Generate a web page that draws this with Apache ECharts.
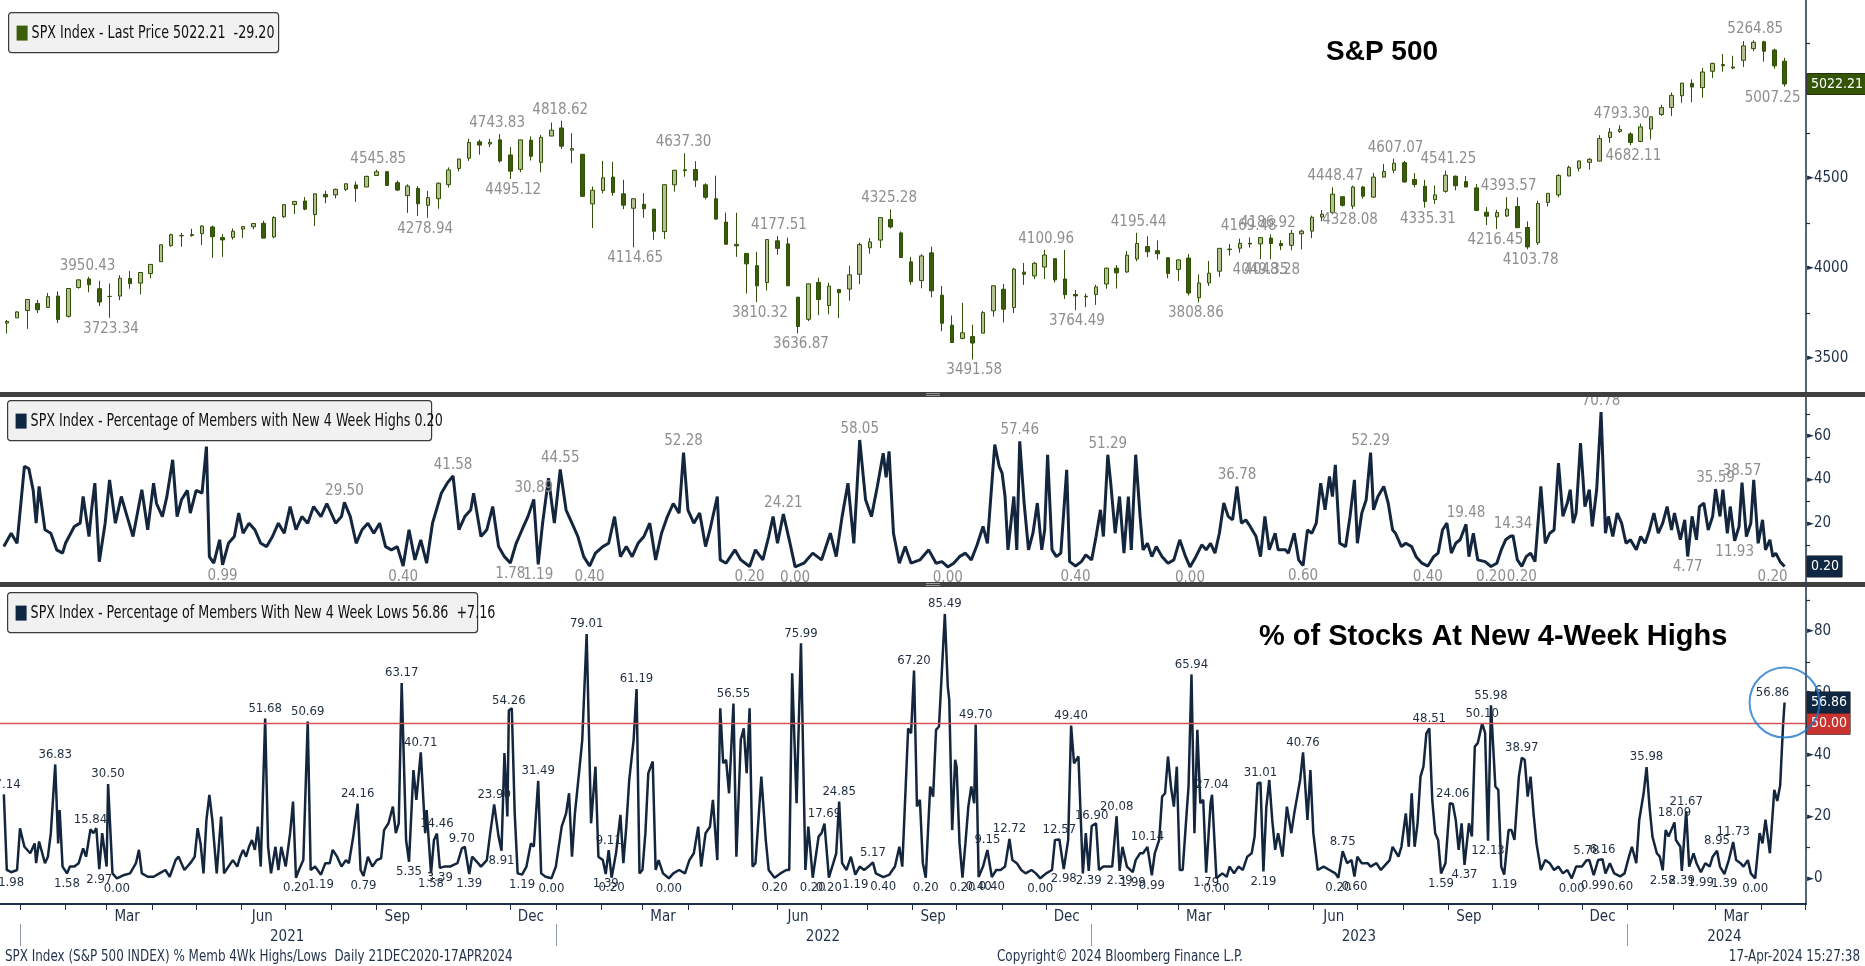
<!DOCTYPE html>
<html><head><meta charset="utf-8">
<script src="https://cdn.jsdelivr.net/npm/echarts@6/dist/echarts.min.js"></script>
<style>html,body{margin:0;padding:0;background:#fff}#c{width:1865px;height:966px}</style>
</head><body><div id="c"></div>
<script>
// ---------- DATA ----------
// Day 0 = Mon 21-Dec-2020. Weekly SPX candles [open, high, low, close], one per week (Mon start).
const spxWeekly = [
[3694,3711,3636,3703],[3723,3760,3723,3756],
[3764,3826,3662,3825],[3803,3823,3750,3768],[3781,3861,3781,3841],[3844,3870,3694,3714],
[3731,3887,3725,3886],[3892,3937,3885,3934],[3939,3950.43,3865,3907],[3885,3929,3789,3811],
[3842,3914,3723.34,3842],[3844,3960,3821,3943],[3942,3983,3885,3913],[3916,3978,3853,3975],[3969,4020,3943,4020],
[4035,4129,4034,4129],[4124,4191,4118,4185],[4179,4195,4118,4180],[4185,4218,4174,4181],
[4191,4238,4128,4233],[4228,4236,4056,4174],[4169,4188,4062,4156],[4170,4219,4158,4204],[4216,4234,4167,4230],
[4229,4249,4215,4247],[4248,4262,4165,4166],[4173,4287,4165,4281],[4285,4355,4278,4352],
[4353,4372,4300,4370],[4372,4394,4321,4327],[4297,4415,4233,4412],[4409,4430,4360,4395],
[4406,4441,4387,4437],[4437,4468,4428,4468],[4461,4480,4367,4441],[4450,4513,4450,4509],[4514,4545.85,4513,4535],
[4535,4536,4459,4459],[4474,4486,4427,4433],[4402,4465,4306,4455],[4442,4455,4289,4357],
[4348,4429,4278.94,4391],[4385,4475,4329,4471],[4463,4559,4447,4545],[4553,4608,4537,4605],
[4610,4718,4595,4697],[4701,4714,4630,4683],[4689,4717,4672,4698],[4712,4743.83,4585,4595],[4628,4672,4495.12,4538],
[4548,4713,4532,4712],[4710,4731,4597,4621],[4587,4740,4531,4726],[4733,4808,4733,4766],
[4778,4818.62,4662,4677],[4655,4749,4582,4663],[4632,4632,4395,4398],[4356,4453,4222,4432],[4431,4595,4414,4501],
[4505,4590,4401,4419],[4412,4490,4327,4349],[4332,4385,4114.65,4385],[4354,4416,4279,4329],
[4327,4327,4157,4204],[4202,4465,4161,4463],[4462,4546,4424,4543],[4541,4637.30,4507,4546],
[4547,4593,4450,4488],[4462,4471,4381,4393],[4385,4513,4267,4272],[4255,4308,4128,4132],
[4131,4307,4062,4123],[4081,4081,3858,4023],[4013,4090,3810.32,3901],[3919,4158,3875,4158],[4151,4177.51,4074,4109],
[4134,4168,3900,3901],[3838,3838,3636.87,3675],[3715,3913,3705,3912],[3920,3946,3738,3825],
[3792,3918,3743,3899],[3880,3880,3722,3863],[3883,4013,3818,3962],[3965,4140,3910,4130],
[4112,4167,4079,4145],[4155,4280,4111,4280],[4270,4325.28,4219,4228],[4195,4203,4057,4058],[4034,4062,3907,3924],
[3930,4076,3887,4067],[4084,4119,3837,3873],[3849,3900,3648,3693],[3682,3736,3584,3586],
[3609,3806,3604,3640],[3619,3685,3491.58,3583],[3638,3762,3638,3752],[3762,3905,3730,3901],[3882,3911,3698,3771],
[3780,4001,3750,3993],[3977,4028,3906,3965],[3956,4034,3938,4026],[4005,4100.96,3938,4072],
[4052,4052,3919,3934],[3939,4100,3828,3852],[3853,3878,3764.49,3845],[3843,3858,3783,3840],
[3853,3906,3795,3895],[3911,4003,3885,3999],[3999,4016,3886,3973],[3978,4094,3973,4071],[4050,4195.44,4037,4136],
[4119,4176,4060,4090],[4096,4153,4047,4079],[4057,4057,3943,3970],[3992,4049,3928,4045],
[4055,4078,3847,3861],[3835,3965,3808.86,3917],[3917,4039,3900,3971],[3982,4110,3951,4109],
[4102,4133,4069,4105],[4110,4163,4085,4137],[4137,4169.48,4113,4133],[4134,4170,4049.35,4169],
[4166,4186.92,4048.28,4136],[4136,4154,4099,4124],[4126,4212,4099,4192],[4190,4213,4103,4205],[4205,4291,4166,4282],
[4283,4322,4260,4299],[4308,4448.47,4298,4410],[4396,4400,4341,4348],[4344,4458,4328.08,4450],
[4450,4456,4385,4399],[4394,4528,4389,4505],[4505,4578,4503,4536],[4543,4607.07,4526,4582],[4585,4595,4474,4478],
[4492,4527,4448,4464],[4454,4490,4335.31,4370],[4380,4458,4356,4406],[4426,4541.25,4418,4516],
[4510,4514,4431,4457],[4480,4511,4449,4450],[4445,4466,4316,4320],[4310,4338,4238,4288],
[4284,4324,4216.45,4308],[4289,4393.57,4283,4327],[4342,4393,4223,4224],[4225,4259,4103.78,4117],[4140,4374,4128,4358],
[4364,4415,4342,4415],[4406,4521,4393,4514],[4511,4569,4511,4559],[4554,4596,4537,4595],
[4587,4610,4546,4604],[4594,4738,4593,4719],[4725,4778,4695,4755],[4758,4793.30,4751,4770],
[4745,4754,4682.11,4697],[4703,4802,4699,4784],[4772,4842,4714,4840],[4853,4907,4845,4891],[4892,4975,4845,4959],
[4957,5030,4918,5027],[5026,5048,4920,5006],[5002,5111,4946,5089],[5093,5140,5056,5137],
[5130,5189,5091,5124],[5111,5179,5105,5117],[5154,5261,5117,5234],[5219,5264.85,5204,5254],
[5257,5263,5146,5204],[5211,5219,5107,5123],[5149,5168,5007.25,5022.21]
];
const spxMarks = [
['2021-02-16',3950.43,'top'],['2021-03-04',3723.34,'bottom'],['2021-09-02',4545.85,'top'],['2021-10-04',4278.94,'bottom'],
['2021-11-22',4743.83,'top'],['2021-12-03',4495.12,'bottom'],['2022-01-04',4818.62,'top'],['2022-02-24',4114.65,'bottom'],
['2022-03-29',4637.30,'top'],['2022-05-20',3810.32,'bottom'],['2022-06-02',4177.51,'top'],['2022-06-17',3636.87,'bottom'],
['2022-08-16',4325.28,'top'],['2022-10-13',3491.58,'bottom'],['2022-12-01',4100.96,'top'],['2022-12-22',3764.49,'bottom'],
['2023-02-02',4195.44,'top'],['2023-03-13',3808.86,'bottom'],['2023-04-18',4169.48,'top'],['2023-04-26',4049.35,'bottom'],
['2023-05-01',4186.92,'top'],['2023-05-04',4048.28,'bottom'],['2023-06-16',4448.47,'top'],['2023-06-26',4328.08,'bottom'],
['2023-07-27',4607.07,'top'],['2023-08-18',4335.31,'bottom'],['2023-09-01',4541.25,'top'],['2023-10-03',4216.45,'bottom'],
['2023-10-12',4393.57,'top'],['2023-10-27',4103.78,'bottom'],['2023-12-28',4793.30,'top'],['2024-01-05',4682.11,'bottom'],
['2024-03-28',5264.85,'top'],['2024-04-17',5007.25,'bottom']
];

// % members with new 4-week highs: [day, value]
const highsPct = [
[0,9.3],[5,15.4],[9,10.8],[14,46],[17,45],[20,35],[22,20],[24,36.8],[28,17],[32,15.4],[36,7.8],[40,6.3],[42,10.8],[48,18.5],[52,20],[54,32.2],[58,13.9],[60,27.6],[62,38.3],[65,2.4],[69,20],[72,39.8],[76,20],[80,32.2],[84,23],[88,13.9],[94,35.3],[98,17],[102,38.3],[104,29],[108,23],[111,32],[115,49],[118,23],[121,30.7],[125,35],[127,24.6],[131,35],[135,33.7],[138,55],[140,4.7],[143,1.7],[147,12.4],[149,0.99],[153,10.8],[157,13.9],[160,24.6],[163,15.4],[167,20],[171,17],[175,10.8],[179,9.3],[183,13.9],[187,20],[191,15.4],[195,27.6],[199,17],[203,23],[207,20],[211,27.6],[216,23],[220,29],[226,20],[230,23],[232,29.5],[236,23],[240,10.8],[244,17],[248,20],[252,15.4],[256,20],[260,9.3],[264,7.8],[268,9.3],[272,0.4],[276,17],[280,3.2],[284,12.4],[288,1.7],[292,20],[298,33.7],[302,38.3],[306,41.58],[310,17],[314,23],[318,26],[320,33.7],[325,13.9],[329,17],[333,27.6],[337,9.3],[341,4.7],[345,1.78],[349,10.8],[353,17],[357,23],[361,30.89],[364,1.19],[367,20],[371,40.6],[375,20],[379,44.55],[383,26],[387,20],[391,13.9],[395,4.7],[399,0.4],[403,6.3],[408,9.3],[412,10.8],[416,23],[420,4.7],[424,9.3],[428,4.7],[432,10.8],[436,13.9],[440,20],[444,3.2],[448,15.4],[452,23],[456,29],[460,24.6],[463,52.28],[466,26],[470,20],[474,24.6],[478,9.3],[481,17],[486,32.2],[488,3.2],[492,1.7],[498,7.8],[502,3.2],[508,0.2],[512,7.8],[517,3.2],[521,13.9],[524,23],[527,10.8],[531,24.21],[535,12.4],[539,0],[545,1.7],[551,6.3],[557,3.2],[563,15.4],[567,4.7],[571,23],[575,38.3],[579,10.8],[583,58.05],[587,30.7],[591,23],[595,36.8],[599,52],[601,41],[603,52.8],[606,15.4],[610,1.7],[614,9.3],[618,1.7],[624,3.2],[630,7.8],
[635,1.7],[639,2.4],[643,0],[647,1.7],[651,4.7],[655,6.3],[659,3.2],[663,10.1],[667,18.5],[670,10.8],[672,29.2],[675,55.9],[678,46],[680,42.9],[682,32.2],[684,7.8],[686,20],[688,32.2],[690,7.8],[692,57.46],[695,29.2],[698,7.8],[701,15.4],[704,29.2],[707,7.8],[709,16.9],[711,51.3],[714,7.8],[717,4.7],[720,6.3],[724,44.4],[726,2.4],[730,0.4],[734,2.4],[737,5.5],[741,3.2],[744,13.9],[747,26.1],[749,13.9],[752,51.29],[754,38.3],[757,15.4],[760,32.2],[763,6.3],[766,32.2],[768,7.8],[771,51.3],[774,23.1],[776,7.8],[779,10.8],[782,4.7],[785,9.3],[789,4.7],[793,1.7],[797,3.2],[801,12.4],[805,4.7],[808,0],[812,4.7],[816,10.1],[819,7.8],[822,10.8],[825,6.3],[828,15.4],[831,29.2],[834,23.1],[837,21.5],[840,36.78],[843,20],[846,21.5],[849,18.5],[853,13.9],[856,4.7],[859,23.1],[862,7.8],[866,15.4],[868,7.8],[873,7.8],[875,6.3],[879,15.4],[882,3.2],[885,0.6],[888,16.9],[891,15.4],[894,20],[897,38.3],[900,26.1],[903,41.4],[905,32.2],[907,46.7],[910,10.8],[914,9.3],[917,23.1],[920,39.8],[922,10.8],[925,24.6],[928,30.7],[931,52.29],[933,26.1],[936,32.2],[940,36.8],[943,29.2],[946,16.9],[948,15.4],[952,9.3],[955,10.8],[959,9.3],[962,4.7],[966,1.7],[970,0.4],[974,4.7],[977,6.3],[980,16.9],[983,20],[986,6.3],[989,10.8],[992,12.4],[996,19.48],[998,4.7],[1001,15.4],[1004,3.2],[1009,2.4],[1013,0.2],[1017,1.7],[1020,7.8],[1023,12.4],[1026,13.9],[1028,14.34],[1031,3.2],[1034,0.2],[1037,4.7],[1040,6.3],[1043,2.4],[1047,36.8],[1050,10.8],[1053,15.4],[1056,16.9],[1059,47.5],[1062,23.1],[1065,29.2],[1067,35.3],[1069,20],[1071,24.6],[1074,56.6],[1077,27.6],[1080,35.3],[1082,18.5],[1085,35.3],[1088,70.78],[1091,15.4],[1093,23.1],[1096,13.9],[1099,24.6],[1102,20],[1105,10.8],[1108,12.4],[1112,7.8],[1115,13.9],[1118,10.8],[1121,16.9],[1124,24.6],[1127,15.4],[1130,20],[1133,27.6],[1136,16.9],[1138,24.6],[1142,12.4],[1145,21.5],[1147,4.77],[1150,23.1],[1153,12.4],[1155,27.6],[1158,29.2],[1161,16.9],[1164,23.1],[1166,35.59],[1169,23.1],[1171,35.3],[1174,15.4],[1176,27.6],[1179,11.93],[1182,18.5],[1184,38.57],[1187,13.9],[1190,20],[1192,39.8],[1195,10.8],[1198,21.5],[1200,7.8],[1203,12.4],[1205,4.7],[1207,6.3],[1210,2.4],[1213,0.2]
];
const highsLabelTop = [232,306,361,379,463,531,583,692,752,840,931,996,1028,1088,1166,1184];
const highsLabelBottom = [149,272,345,364,399,508,539,643,730,808,885,970,1013,1034,1147,1179,1213];

// % members with new 4-week lows: [day, value]
const lowsPct = [
[0,27.14],[2,2.7],[5,1.98],[9,2.7],[11,16.2],[14,10.2],[18,8.1],[21,11.3],[22,4.9],[24,11.9],[28,4.9],[30,7],[32,14.6],[35,36.83],[37,11.3],[38,22.1],[40,3.8],[43,1.58],[45,3.8],[48,3.8],[51,4.9],[54,9.7],[56,7],[59,15.84],[61,14.6],[63,16.2],[65,2.97],[67,14.6],[70,3.8],[71,30.5],[74,1.6],[77,0],[82,1.1],[86,1.6],[90,4.9],[92,9.2],[94,1.6],[98,0.5],[102,0.5],[106,1.6],[110,2.7],[113,0.5],[117,5.9],[119,7],[123,2.7],[127,4.9],[130,7],[132,16.2],[134,11.3],[136,1.6],[138,18.9],[140,27],[142,18.9],[145,1.6],[148,20],[150,1.6],[153,3.8],[156,5.9],[159,3.8],[161,7],[163,9.2],[165,7],[167,10.2],[169,12.4],[171,9.2],[173,16.7],[175,3.8],[178,51.68],[180,10.2],[182,1.6],[185,10.2],[187,2.7],[189,10.2],[192,3.8],[195,14.6],[197,24.8],[199,0.2],[201,2.7],[204,5.9],[207,50.69],[209,2.7],[212,3.8],[216,1.19],[219,4.9],[222,4.9],[224,9.2],[227,7],[230,3.8],[233,5.9],[235,4.9],[238,13.5],[241,24.16],[243,2.7],[245,0.79],[248,7],[251,3.8],[254,5.9],[257,6.5],[259,15.6],[262,17.8],[265,23.2],[267,14.6],[269,17.8],[271,63.17],[274,12.4],[276,5.35],[279,35],[281,25.4],[284,40.71],[287,14.6],[288,22.1],[291,1.58],[293,12.4],[295,14.46],[297,3.39],[300,3.8],[304,3.8],[306,4.3],[309,4.9],[312,9.7],[314,10.2],[317,1.39],[319,7],[323,4.9],[325,3.8],[329,5.9],[331,13.5],[334,23.9],[337,13.5],[339,8.91],[341,40.5],[343,20],[344,54.26],[346,55],[348,21],[350,1.6],[353,1.19],[356,3.8],[359,11.3],[361,10.2],[364,31.49],[366,1.6],[369,0.5],[373,0],[376,3.8],[380,16.7],[383,21],[385,27.5],[387,7],[389,21],[392,35],[394,44.8],[397,79.01],[400,17.8],[403,36.1],[405,7],[408,5.9],[410,1.39],[412,9.11],[414,0.2],[417,8.1],[420,20.5],[422,4.9],[424,16.7],[426,31.8],[429,44.8],[431,61.19],[433,1.6],[435,2.7],[437,14.6],[439,34],[442,37.8],[444,2.7],[446,5.9],[449,1.6],[453,0],[456,1.6],[460,2.7],[464,1.6],[467,5.9],[470,8.1],[473,16.7],[475,3.8],[478,14.6],[481,16.7],[483,25.4],[486,5.9],[488,55],[490,37.2],[492,38.3],[494,27.5],[497,56.55],[499,7],[502,44.8],[504,48.5],[506,34],[508,55],[510,3.8],[512,4.9],[516,32.9],[519,12.4],[521,2.7],[525,0.2],[529,1.6],[533,2.7],[535,2.7],[537,66.3],[540,24.3],[543,75.99],[546,2.7],[548,16.7],[551,0.2],[555,13.5],[557,14.6],[559,17.69],[562,0.2],[565,4.9],[567,8.1],[569,24.85],[571,4.9],[574,2.7],[577,7],[580,1.19],[583,3.8],[586,2.7],[589,3.8],[592,5.17],[594,1.6],[599,0.4],[603,1.1],[607,3.8],[610,10.2],[612,3.8],[616,48.5],[618,46.9],[620,67.2],[622,23.2],[624,25.4],[626,4.9],[628,0.2],[631,29.7],
[633,26.4],[635,48],[637,49.1],[641,85.49],[643,62],[644,57.7],[646,15.6],[648,38.3],[649,36.1],[651,11.3],[653,0.2],[655,11.3],[657,23.2],[659,29.7],[661,24.3],[662,49.7],[664,0.4],[667,3.8],[670,9.15],[673,0.4],[676,2.7],[679,2.7],[682,3.8],[685,12.72],[687,5.9],[690,4.9],[693,2.7],[696,1.6],[700,2.7],[703,1.6],[706,0],[710,1.6],[714,2.7],[716,12.4],[719,12.57],[722,2.98],[725,12.4],[727,49.4],[729,37.2],[732,39.4],[735,1.6],[737,14.6],[739,2.39],[741,16.9],[744,17.8],[746,2.7],[749,3.8],[752,3.8],[755,3.8],[758,20.08],[760,2.39],[762,10.2],[765,3.8],[769,1.99],[771,5.9],[774,8.1],[776,8.1],[779,10.14],[782,0.99],[784,8.1],[787,12.4],[789,26.4],[791,27.5],[793,39.4],[795,29.7],[797,23.2],[799,36.1],[801,2.7],[803,2.7],[806,23.2],[807,29.7],[809,65.94],[811,14.6],[813,48],[815,24.3],[817,25.4],[819,1.79],[822,24.3],[823,27.04],[826,0],[830,1.6],[833,0.5],[835,3.8],[838,1.6],[841,3.8],[844,2.7],[847,7],[850,8.1],[852,13.5],[854,30.7],[856,31.01],[858,2.19],[860,23.2],[862,31.8],[864,18.9],[866,9.2],[868,14.6],[871,7],[874,23.2],[877,14.6],[879,21],[883,31.8],[885,40.76],[888,18.9],[890,35],[892,14.6],[895,2.7],[899,3.8],[903,2.7],[907,1.6],[909,0.2],[912,8.75],[915,4.9],[918,5.9],[920,0.6],[922,7],[925,4.9],[929,4.9],[931,3.8],[935,4.9],[938,2.7],[940,3.8],[944,5.9],[946,10.2],[950,7],[952,10.2],[955,21],[957,10.2],[959,27.5],[961,10.2],[963,17.8],[965,32.9],[967,36.1],[969,46.9],[971,48.51],[973,25.4],[975,14.6],[977,12.4],[979,1.59],[982,4.9],[985,24.3],[987,24.06],[989,18.9],[991,9.2],[993,17.8],[995,4.37],[998,17.8],[1000,13.5],[1002,42.6],[1004,43.7],[1007,50.1],[1009,47],[1011,12.13],[1013,55.98],[1016,29.7],[1018,28.6],[1020,3.8],[1022,1.19],[1025,15.6],[1027,15.6],[1029,12.4],[1032,32.9],[1034,38.97],[1036,38.3],[1038,26.4],[1040,32.9],[1042,21],[1044,11.3],[1047,2.7],[1050,5.9],[1053,4.9],[1056,2.7],[1059,3.8],[1062,1.6],[1065,2.7],[1068,0],[1071,3.8],[1075,3.8],[1078,5.78],[1080,5.9],[1083,0.99],[1086,5.9],[1089,6.16],[1091,1.6],[1094,4.9],[1097,1.6],[1101,0.6],[1104,1.6],[1107,7],[1109,10.2],[1112,4.9],[1114,18.9],[1117,27.5],[1119,35.98],[1121,23.2],[1123,13.5],[1126,8.1],[1128,7],[1130,2.58],[1132,15.6],[1134,13.5],[1138,18.09],[1139,12.4],[1142,10.2],[1143,2.39],[1146,21.67],[1148,3.8],[1151,8.1],[1153,4.9],[1156,1.99],[1159,4.9],[1162,3.8],[1164,7],[1167,8.95],[1169,3.8],[1172,1.39],[1175,5.9],[1178,11.73],[1180,5.9],[1183,4.9],[1185,3.8],[1188,5.9],[1190,1.6],[1193,0],[1196,14.6],[1198,11.3],[1200,19],[1203,8.1],[1206,28.6],[1208,25],[1210,30],[1211,40],[1212,49.7],[1213,56.86]
];
const lowsLabelTop = [0,35,59,71,178,207,241,271,284,295,312,334,344,364,397,412,431,497,543,559,569,592,620,641,662,670,685,719,727,741,758,779,809,823,856,885,912,971,987,1007,1013,1034,1078,1089,1119,1138,1146,1167,1178,1213];
const lowsLabelBottom = [5,43,65,77,199,216,245,276,291,297,317,339,353,373,410,414,453,525,551,562,580,599,628,653,664,673,706,722,739,760,769,782,819,826,858,909,920,979,995,1011,1022,1068,1083,1101,1130,1143,1156,1172,1193];

const lastPrice = 5022.21, lastHighs = 0.20, lastLows = 56.86, threshold = 50;
const spxTicksMajor = [3500,4000,4500,5000], spxTicksMinor = [3750,4250,4750,5250];
const hiTicksMajor = [0,20,40,60], hiTicksMinor = [10,30,50,70];
const loTicksMajor = [0,20,40,60,80], loTicksMinor = [10,30,50,70,90];
const monthNames = ['Jan','Feb','Mar','Apr','May','Jun','Jul','Aug','Sep','Oct','Nov','Dec'];

// ---------- BUILD ----------
const FONT = "'Liberation Sans Narrow','Arial Narrow','DejaVu Sans Condensed',sans-serif";
const NAVY = '#13263d', AXC = '#1f3048', CLEAR = 'rgba(0,0,0,0)';
const DAY0 = new Date(2020, 11, 21).getTime();
const dayOf = dt => Math.round((dt.getTime() - DAY0) / 86400000);
const dateOf = d => new Date(2020, 11, 21 + Math.round(d));
const X_MIN = -2.62, X_MAX = 1227.6;
const LAST_DAY = highsPct[highsPct.length - 1][0];

const monthStarts = [], quarterMids = [], yearStarts = [], yearMids = [];
for (let y = 2021; y <= 2024; y++) {
  yearStarts.push(dayOf(new Date(y, 0, 1)));
  for (let m = 0; m < 12; m++) {
    const d = dayOf(new Date(y, m, 1));
    if (d <= X_MAX) monthStarts.push(d);
    if (m % 3 === 2) { const mid = dayOf(new Date(y, m, 15)); if (mid < X_MAX) quarterMids.push(mid); }
  }
  yearMids.push(y < 2024 ? dayOf(new Date(y, 6, 2)) : dayOf(new Date(y, 2, 7)));
}

const candles = spxWeekly.map((r, i) => [7 * i + 2, r[0], r[3], r[2], r[1]]);

// labels on the very last day are pulled left so they end at the axis, as Bloomberg does
const lastShift = d => (d >= LAST_DAY ? [-12, 0] : [0, 0]);
function marks(src, tops, bottoms) {
  const lookup = new Map(src.map(p => [p[0], p[1]]));
  const mk = (d, pos) => ({ coord: [d, lookup.get(d)], value: lookup.get(d), label: { position: pos, offset: lastShift(d) } });
  return tops.map(d => mk(d, 'top')).concat(bottoms.map(d => mk(d, 'bottom')));
}
function markStyle(color, size) {
  return { symbol: 'circle', symbolSize: 1, itemStyle: { color: CLEAR, borderWidth: 0 }, silent: true,
    label: { show: true, color: color, fontFamily: FONT, fontSize: size, distance: 3,
      formatter: p => Number(p.value).toFixed(2) } };
}
function boxLabel(bg, val) {
  return { show: true, position: 'end', distance: 1, formatter: val.toFixed(2),
    backgroundColor: bg, color: '#fff', fontFamily: FONT, fontSize: 14, padding: [4, 3, 3, 4],
    borderColor: '#111', borderWidth: 0.5 };
}
function yAx(gi, min, max, major, minor) {
  return { type: 'value', gridIndex: gi, position: 'right', min: min, max: max,
    splitLine: { show: false },
    axisLine: { show: true, onZero: false, lineStyle: { color: AXC, width: 1.5 } },
    axisTick: { show: true, customValues: minor, length: 4, lineStyle: { color: AXC, width: 1.2 } },
    axisLabel: { show: true, customValues: major, margin: 1,
      formatter: v => '{t|\u25BA}{n|' + v + '}',
      rich: { t: { fontFamily: 'DejaVu Sans', fontSize: 9, color: AXC },
              n: { fontFamily: FONT, fontSize: 15, color: AXC } } } };
}
const xHidden = gi => ({ type: 'value', gridIndex: gi, min: X_MIN, max: X_MAX, show: false,
  axisLine: { onZero: false }, splitLine: { show: false } });
const grid = (top, height) => ({ left: 0, right: 59, top: top, height: height, outerBoundsMode: 'none' });

const TXT_SX = 0.83;
function legendBox(x, y, w, txt, sq) {
  return { type: 'group', left: x, top: y, z: 100, children: [
    { type: 'rect', shape: { x: 0, y: 0, width: w, height: 40, r: 3 },
      style: { fill: '#f1f1f1', stroke: '#3a3a3a', lineWidth: 1.2 } },
    { type: 'rect', shape: { x: 8, y: 13, width: 11, height: 15 }, style: { fill: sq } },
    { type: 'text', x: 23, y: 21, scaleX: TXT_SX, style: { text: txt, font: '17px ' + FONT, fill: '#111', verticalAlign: 'middle' } }
  ] };
}
const footText = (x, txt, align) => ({ type: 'text', x: x, y: 957, z: 100, scaleX: TXT_SX,
  style: { text: txt, font: '16px ' + FONT, fill: AXC, verticalAlign: 'middle', align: align } });

const chart = echarts.init(document.getElementById('c'), null, { renderer: 'canvas' });
chart.setOption({
  animation: false,
  backgroundColor: '#ffffff',
  grid: [grid(0, 392), grid(397, 185), grid(587, 317)],
  xAxis: [
    xHidden(0), xHidden(1),
    { type: 'value', gridIndex: 2, min: X_MIN, max: X_MAX, position: 'bottom', splitLine: { show: false },
      axisLine: { show: true, onZero: false, lineStyle: { color: AXC, width: 2 } },
      axisTick: { show: true, customValues: monthStarts, length: 6, lineStyle: { color: AXC } },
      axisLabel: { customValues: quarterMids, margin: 6, fontFamily: FONT, fontSize: 15, color: AXC,
        formatter: v => monthNames[dateOf(v).getMonth()] } },
    { type: 'value', gridIndex: 2, min: X_MIN, max: X_MAX, position: 'bottom', offset: 20, splitLine: { show: false },
      axisLine: { show: false, onZero: false },
      axisTick: { show: true, customValues: yearStarts, length: 22, lineStyle: { color: '#8d99aa' } },
      axisLabel: { customValues: yearMids, margin: 6, fontFamily: FONT, fontSize: 15, color: AXC,
        formatter: v => String(dateOf(v).getFullYear()) } }
  ],
  yAxis: [
    yAx(0, 3311, 5489, spxTicksMajor, spxTicksMinor),
    yAx(1, -6.9, 77.7, hiTicksMajor, hiTicksMinor),
    yAx(2, -8.3, 94.2, loTicksMajor, loTicksMinor)
  ],
  series: [
    { type: 'candlestick', xAxisIndex: 0, yAxisIndex: 0, data: candles, encode: { x: 0, y: [1, 2, 3, 4] },
      barWidth: 4,
      itemStyle: { color: '#b3c290', color0: '#3b5c0b', borderColor: '#2f5006', borderColor0: '#2f5006', borderWidth: 1 },
      markPoint: Object.assign(markStyle('#8e8e8e', 15),
        { data: spxMarks.map(m => { const p = m[0].split('-').map(Number); const d = dayOf(new Date(p[0], p[1] - 1, p[2]));
            return { coord: [d, m[1]], value: m[1], label: { position: m[2], offset: lastShift(d) } }; }) }),
      markLine: { silent: true, symbol: ['none', 'none'], lineStyle: { color: CLEAR, width: 0 },
        data: [{ yAxis: lastPrice, label: boxLabel('#345508', lastPrice) }] } },
    { type: 'line', xAxisIndex: 1, yAxisIndex: 1, data: highsPct, showSymbol: false,
      lineStyle: { color: NAVY, width: 3 }, itemStyle: { color: NAVY },
      markPoint: Object.assign(markStyle('#8e8e8e', 15), { data: marks(highsPct, highsLabelTop, highsLabelBottom) }),
      markLine: { silent: true, symbol: ['none', 'none'], lineStyle: { color: CLEAR, width: 0 },
        data: [{ yAxis: lastHighs, label: boxLabel('#0f2740', lastHighs) }] } },
    { type: 'line', xAxisIndex: 2, yAxisIndex: 2, data: lowsPct, showSymbol: false,
      lineStyle: { color: NAVY, width: 2.5 }, itemStyle: { color: NAVY },
      markPoint: Object.assign(markStyle('#1f2d40', 13), { data: marks(lowsPct, lowsLabelTop, lowsLabelBottom) }),
      markLine: { silent: true, symbol: ['none', 'none'],
        data: [
          { yAxis: threshold, lineStyle: { color: '#d25555', width: 1.3, type: 'solid' }, label: boxLabel('#c8322f', threshold) },
          { yAxis: lastLows, lineStyle: { color: CLEAR, width: 0 }, label: boxLabel('#0f2740', lastLows) }
        ] } },
    { type: 'scatter', xAxisIndex: 2, yAxisIndex: 2, data: [lowsPct[lowsPct.length - 1]],
      symbol: 'circle', symbolSize: 70, silent: true, z: 5,
      itemStyle: { color: CLEAR, borderColor: '#1f77c9', borderWidth: 2 } }
  ],
  graphic: [
    { type: 'rect', left: 0, top: 392, z: 90, shape: { width: 1865, height: 5 }, style: { fill: '#3f3f3f' } },
    { type: 'rect', left: 0, top: 582, z: 90, shape: { width: 1865, height: 5 }, style: { fill: '#3f3f3f' } },
    { type: 'rect', left: 926, top: 393, z: 91, shape: { width: 14, height: 1 }, style: { fill: '#9a9a9a' } },
    { type: 'rect', left: 926, top: 395, z: 91, shape: { width: 14, height: 1 }, style: { fill: '#9a9a9a' } },
    { type: 'rect', left: 926, top: 583, z: 91, shape: { width: 14, height: 1 }, style: { fill: '#9a9a9a' } },
    { type: 'rect', left: 926, top: 585, z: 91, shape: { width: 14, height: 1 }, style: { fill: '#9a9a9a' } },
    legendBox(8, 12, 270, 'SPX Index - Last Price 5022.21  -29.20', '#3b5e0a'),
    legendBox(7, 400, 424, 'SPX Index - Percentage of Members with New 4 Week Highs 0.20', '#0f2740'),
    legendBox(7, 592, 470, 'SPX Index - Percentage of Members With New 4 Week Lows 56.86  +7.16', '#0f2740'),
    { type: 'text', left: 1326, top: 38, z: 100, style: { text: 'S&P 500', font: 'bold 28px "Liberation Sans", Arial, sans-serif', fill: '#000' } },
    { type: 'text', left: 1259, top: 622, z: 100, style: { text: '% of Stocks At New 4-Week Highs', font: 'bold 29px "Liberation Sans", Arial, sans-serif', fill: '#000' } },
    footText(5, 'SPX Index (S&P 500 INDEX) % Memb 4Wk Highs/Lows  Daily 21DEC2020-17APR2024', 'left'),
    footText(997, 'Copyright\u00A9 2024 Bloomberg Finance L.P.', 'left'),
    footText(1860, '17-Apr-2024 15:27:38', 'right')
  ]
});
</script>
</body></html>
